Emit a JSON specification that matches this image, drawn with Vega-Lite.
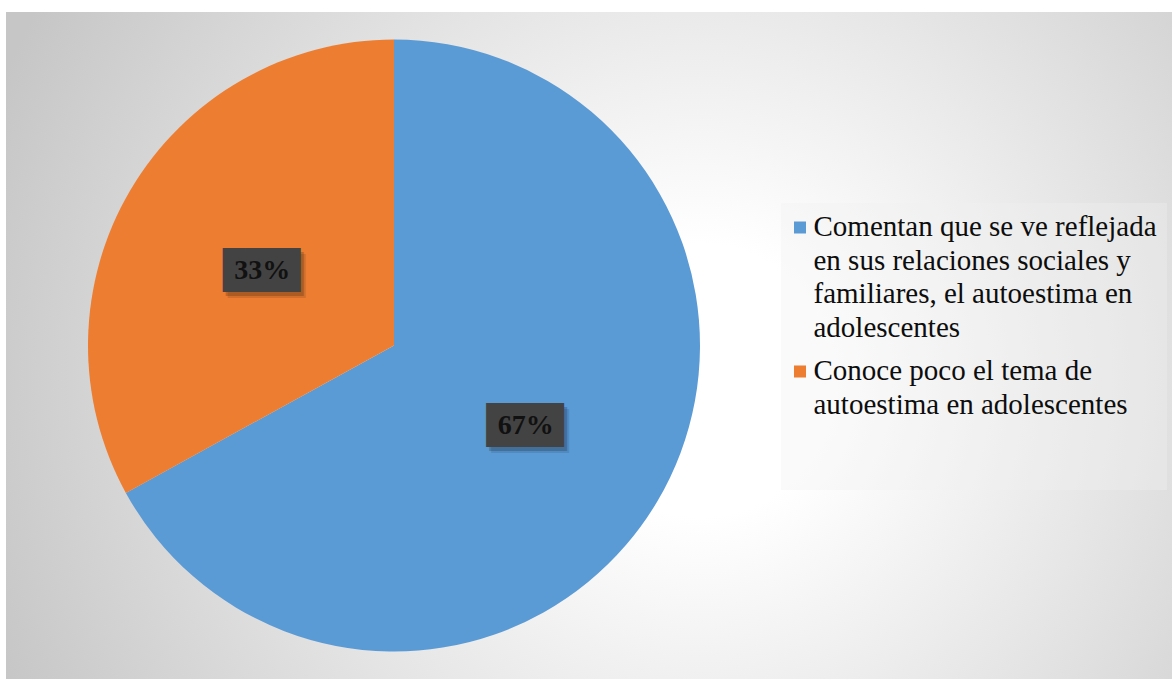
{
  "$schema": "https://vega.github.io/schema/vega-lite/v6.json",
  "background": "white",
  "padding": {"left": 6, "top": 12, "right": 0, "bottom": 0},
  "config": {
    "view": {"stroke": null},
    "legend": {"labelFont": "Liberation Serif", "labelFontSize": 29},
    "style": {"guide-label": {"font": "Liberation Serif"}}
  },
  "datasets": {
    "respuestas": [
      {"categoria": "Comentan que se ve reflejada en sus relaciones sociales y familiares, el autoestima en adolescentes", "valor": 67, "etiqueta": "67%"},
      {"categoria": "Conoce poco el tema de autoestima en adolescentes", "valor": 33, "etiqueta": "33%"}
    ],
    "fondo": [{"panel": "fondo"}]
  },
  "spacing": 0,
  "resolve": {"scale": {"color": "shared"}, "legend": {"color": "shared"}},
  "hconcat": [
    {
      "width": 776,
      "height": 667,
      "layer": [
        {
          "data": {"name": "fondo"},
          "mark": {
            "type": "rect",
            "fill": {"gradient": "radial", "x1": 0.894, "y1": 0.5445, "r1": 0, "x2": 0.894, "y2": 0.5445, "r2": 0.979,
              "stops": [{"offset": 0, "color": "#ffffff"}, {"offset": 0.18, "color": "#ffffff"}, {"offset": 1, "color": "#c6c6c6"}]}
          },
          "encoding": {}
        },
        {
          "data": {"name": "respuestas"},
          "mark": {"type": "arc", "outerRadius": 306},
          "encoding": {
            "theta": {"field": "valor", "type": "quantitative", "stack": true},
            "order": {"field": "valor", "type": "quantitative", "sort": "descending"},
            "color": {
              "field": "categoria",
              "type": "nominal",
              "scale": {
                "domain": ["Comentan que se ve reflejada en sus relaciones sociales y familiares, el autoestima en adolescentes", "Conoce poco el tema de autoestima en adolescentes"],
                "range": ["#5b9bd5", "#ed7d31"]
              },
              "legend": {
                "orient": "none",
                "legendX": 775,
                "legendY": 191,
                "title": " ",
                "titleOrient": "bottom",
                "titleFontSize": 10,
                "titlePadding": 50,
                "padding": 10,
                "fillColor": "rgba(240,240,240,0.35)",
                "symbolType": "square",
                "symbolSize": 144,
                "symbolStrokeWidth": 0,
                "symbolOpacity": 1,
                "symbolOffset": -5.5,
                "labelFont": "Liberation Serif",
                "labelFontSize": 29,
                "labelColor": "#0d0d0d",
                "labelLimit": 600,
                "labelOffset": -1,
                "labelBaseline": "alphabetic",
                "rowPadding": 13,
                "labelExpr": "datum.label == 'Conoce poco el tema de autoestima en adolescentes' ? ['Conoce poco el tema de', 'autoestima en adolescentes'] : ['Comentan que se ve reflejada', 'en sus relaciones sociales y', 'familiares, el autoestima en', 'adolescentes']",
                "encode": {"labels": {"update": {"dy": {"value": 8.5}, "lineHeight": {"value": 33.7}, "font": {"value": "Liberation Serif"}, "fontSize": {"value": 29}}}}
              }
            }
          }
        },
        {
          "data": {"name": "respuestas"},
          "mark": {"type": "text", "radius": 153, "text": "███▌", "font": "DejaVu Sans Mono", "fontSize": 37, "align": "center", "baseline": "middle", "fill": "#000000", "opacity": 0.18, "dx": 8, "dy": 8},
          "encoding": {
            "theta": {"field": "valor", "type": "quantitative", "stack": true},
            "order": {"field": "valor", "type": "quantitative", "sort": "descending"},
            "detail": {"field": "categoria", "type": "nominal"}
          }
        },
        {
          "data": {"name": "respuestas"},
          "mark": {"type": "text", "radius": 153, "text": "███▌", "font": "DejaVu Sans Mono", "fontSize": 37, "align": "center", "baseline": "middle", "fill": "#000000", "opacity": 0.1, "dx": 10, "dy": 10},
          "encoding": {
            "theta": {"field": "valor", "type": "quantitative", "stack": true},
            "order": {"field": "valor", "type": "quantitative", "sort": "descending"},
            "detail": {"field": "categoria", "type": "nominal"}
          }
        },
        {
          "data": {"name": "respuestas"},
          "mark": {"type": "text", "radius": 153, "text": "███▌", "font": "DejaVu Sans Mono", "fontSize": 37, "align": "center", "baseline": "middle", "fill": "#434343", "dx": 5, "dy": 4},
          "encoding": {
            "theta": {"field": "valor", "type": "quantitative", "stack": true},
            "order": {"field": "valor", "type": "quantitative", "sort": "descending"},
            "detail": {"field": "categoria", "type": "nominal"}
          }
        },
        {
          "data": {"name": "respuestas"},
          "mark": {"type": "text", "radius": 153, "font": "Liberation Serif", "fontSize": 28, "fontWeight": "bold", "align": "center", "baseline": "middle", "fill": "#111111", "dy": 3},
          "encoding": {
            "theta": {"field": "valor", "type": "quantitative", "stack": true},
            "order": {"field": "valor", "type": "quantitative", "sort": "descending"},
            "detail": {"field": "categoria", "type": "nominal"},
            "text": {"field": "etiqueta", "type": "nominal"}
          }
        }
      ]
    },
    {
      "width": 390,
      "height": 667,
      "data": {"name": "fondo"},
      "mark": {
        "type": "rect",
        "fill": {"gradient": "radial", "x1": 0.0847, "y1": 0.5517, "r1": 0, "x2": 0.0847, "y2": 0.5517, "r2": 1.1394,
          "stops": [{"offset": 0, "color": "#ffffff"}, {"offset": 0.18, "color": "#ffffff"}, {"offset": 1, "color": "#c6c6c6"}]}
      },
      "encoding": {}
    }
  ]
}
